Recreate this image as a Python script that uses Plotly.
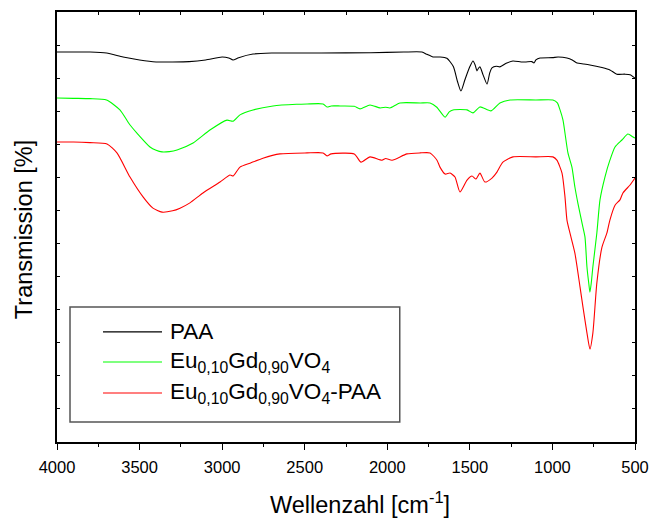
import plotly.graph_objects as go

# FTIR spectra: wavenumber (cm^-1) and stacked transmission (offset, arbitrary units)
paa_wn = [4000, 3800, 3700, 3600, 3500, 3400, 3300, 3200, 3100, 3000, 2960, 2934, 2900,
          2813, 2700, 2400, 2100, 1900, 1790, 1760, 1723, 1680, 1639, 1600, 1575, 1554,
          1530, 1500, 1481, 1468, 1457, 1448, 1439, 1420, 1396, 1380, 1366, 1340, 1318,
          1280, 1239, 1190, 1160, 1125, 1112, 1100, 1075, 1000, 966, 912, 880, 851, 810,
          773, 700, 652, 610, 560, 530, 500]
paa_t = [11.79, 11.79, 11.76, 11.64, 11.55, 11.49, 11.49, 11.50, 11.55, 11.64, 11.61, 11.55, 11.62,
         11.73, 11.76, 11.76, 11.77, 11.79, 11.79, 11.72, 11.64, 11.64, 11.60, 11.35, 10.90, 10.61,
         10.95, 11.35, 11.52, 11.40, 11.22, 11.30, 11.34, 11.10, 10.82, 11.15, 11.31, 11.36, 11.34,
         11.45, 11.52, 11.49, 11.49, 11.50, 11.46, 11.55, 11.61, 11.62, 11.64, 11.61, 11.55, 11.46, 11.43,
         11.40, 11.32, 11.25, 11.12, 11.12, 11.10, 11.00]

vo4_wn = [4000, 3900, 3800, 3700, 3619, 3560, 3516, 3437, 3400, 3364, 3320, 3273, 3176,
          3074, 2971, 2934, 2892, 2813, 2692, 2550, 2486, 2389, 2365, 2340, 2286, 2200,
          2165, 2105, 2044, 2010, 1984, 1923, 1800, 1741, 1700, 1650, 1625, 1602, 1517,
          1481, 1439, 1372, 1318, 1257, 1100, 997, 970, 954, 936, 906, 882, 864, 845,
          820, 803, 791, 780, 773, 765, 755, 731, 712, 682, 652, 621, 579, 543, 512, 500]
vo4_t = [10.40, 10.39, 10.38, 10.34, 10.04, 9.60, 9.34, 8.92, 8.82, 8.77, 8.78, 8.83, 9.04,
         9.43, 9.73, 9.70, 9.89, 10.04, 10.16, 10.21, 10.22, 10.22, 10.13, 10.16, 10.16, 10.15,
         10.07, 10.19, 10.10, 10.12, 10.10, 10.25, 10.25, 10.25, 10.12, 9.82, 9.98, 10.04, 10.04,
         9.95, 10.13, 10.01, 10.25, 10.34, 10.34, 10.34, 10.25, 10.04, 9.73, 8.74, 8.31, 7.71, 7.20,
         6.60, 6.20, 5.30, 4.80, 4.53, 4.80, 5.30, 6.32, 7.32, 8.01, 8.52, 8.92, 9.13, 9.31, 9.22, 9.19]

mix_wn = [4000, 3900, 3800, 3697, 3637, 3558, 3479, 3419, 3364, 3300, 3255, 3195, 3116,
          3013, 2952, 2934, 2892, 2831, 2753, 2650, 2486, 2389, 2365, 2340, 2200, 2159,
          2105, 2032, 2010, 1971, 1881, 1802, 1741, 1699, 1681, 1650, 1620, 1590, 1560,
          1517, 1487, 1463, 1439, 1409, 1366, 1336, 1300, 1239, 1100, 997, 973, 942, 924,
          912, 894, 864, 833, 815, 791, 773, 755, 731, 700, 670, 652, 621, 591, 573, 530, 500]
mix_t = [9.07, 9.07, 9.05, 9.01, 8.74, 8.01, 7.41, 7.07, 6.95, 6.99, 7.07, 7.23, 7.53,
         7.86, 8.07, 8.04, 8.31, 8.43, 8.58, 8.71, 8.74, 8.74, 8.65, 8.71, 8.71, 8.46,
         8.62, 8.52, 8.57, 8.52, 8.71, 8.74, 8.74, 8.52, 8.31, 8.10, 8.13, 8.01, 7.56,
         7.92, 8.04, 7.95, 8.13, 7.86, 7.98, 8.16, 8.46, 8.62, 8.62, 8.62, 8.52, 8.13, 7.41,
         6.71, 6.32, 5.71, 4.69, 4.08, 3.30, 2.81, 3.30, 4.81, 5.89, 6.32, 6.71, 7.16, 7.32, 7.53, 7.77, 7.98]

series_names = ["PAA", "Eu<sub>0,10</sub>Gd<sub>0,90</sub>VO<sub>4</sub>",
                "Eu<sub>0,10</sub>Gd<sub>0,90</sub>VO<sub>4</sub>-PAA"]
series_colors = ["#000000", "#00ff00", "#ff0000"]
x_ticks = [4000, 3500, 3000, 2500, 2000, 1500, 1000, 500]

FONT = "Liberation Sans, Arial, sans-serif"

fig = go.Figure()
for wn, t, name, col in zip([paa_wn, vo4_wn, mix_wn], [paa_t, vo4_t, mix_t],
                            series_names, series_colors):
    fig.add_trace(go.Scatter(x=wn, y=t, mode="lines", name=name,
                             line=dict(color=col, width=1.1, shape="spline", smoothing=0.6),
                             showlegend=False))

# invisible trace to carry the top axis
fig.add_trace(go.Scatter(x=[4000, 500], y=[0, 0], xaxis="x2", mode="lines",
                         line=dict(width=0), hoverinfo="skip", showlegend=False))

fig.update_layout(
    width=650, height=518,
    margin=dict(l=57, r=15, t=12, b=76),
    paper_bgcolor="white", plot_bgcolor="white",
    font=dict(family=FONT, color="black"),
    xaxis=dict(range=[4000, 500], tickvals=x_ticks, ticks="outside", ticklen=6, tickwidth=1.2,
               tickcolor="black", showline=True, linecolor="black", linewidth=1.6, mirror=True,
               showgrid=False, zeroline=False, tickfont=dict(size=16.5), ticklabelstandoff=3,
               automargin=False,
               minor=dict(dtick=250, ticks="outside", ticklen=3, tickwidth=1.2, tickcolor="black")),
    xaxis2=dict(range=[4000, 500], overlaying="x", side="top", dtick=250, tick0=500,
                ticks="inside", ticklen=3, tickcolor="black", showticklabels=False,
                showgrid=False, zeroline=False, showline=False, automargin=False),
    yaxis=dict(range=[0, 13], dtick=1, ticks="inside", ticklen=3, tickcolor="black",
               showticklabels=False, showline=True, linecolor="black", linewidth=1.6,
               mirror="ticks", showgrid=False, zeroline=False, automargin=False),
)

# axis titles
fig.add_annotation(x=0.524, y=-0.142, xref="paper", yref="paper",
                   text="Wellenzahl [cm<sup>-1</sup>]", showarrow=False,
                   xanchor="center", yanchor="middle", font=dict(size=23.5, family=FONT))
fig.add_annotation(x=-0.0571, y=0.495, xref="paper", yref="paper",
                   text="Transmission [%]", showarrow=False, textangle=-90,
                   xanchor="center", yanchor="middle", font=dict(size=23.5, family=FONT))

# legend box drawn inside the plot frame
fig.add_shape(type="rect", xref="paper", yref="paper", x0=0.0225, x1=0.593, y0=0.0465, y1=0.314,
              line=dict(color="#555555", width=1.5), fillcolor="white", layer="above")
legend_rows = [0.256, 0.186, 0.114]
for name, col, yy in zip(series_names, series_colors, legend_rows):
    fig.add_shape(type="line", xref="paper", yref="paper", x0=0.0796, x1=0.1817, y0=yy, y1=yy,
                  line=dict(color=col, width=1.1), layer="above")
    fig.add_annotation(x=0.192, y=yy, xref="paper", yref="paper", text=name, showarrow=False,
                       xanchor="left", yanchor="middle", font=dict(size=22.5, family=FONT))

fig.write_html("out.html")
